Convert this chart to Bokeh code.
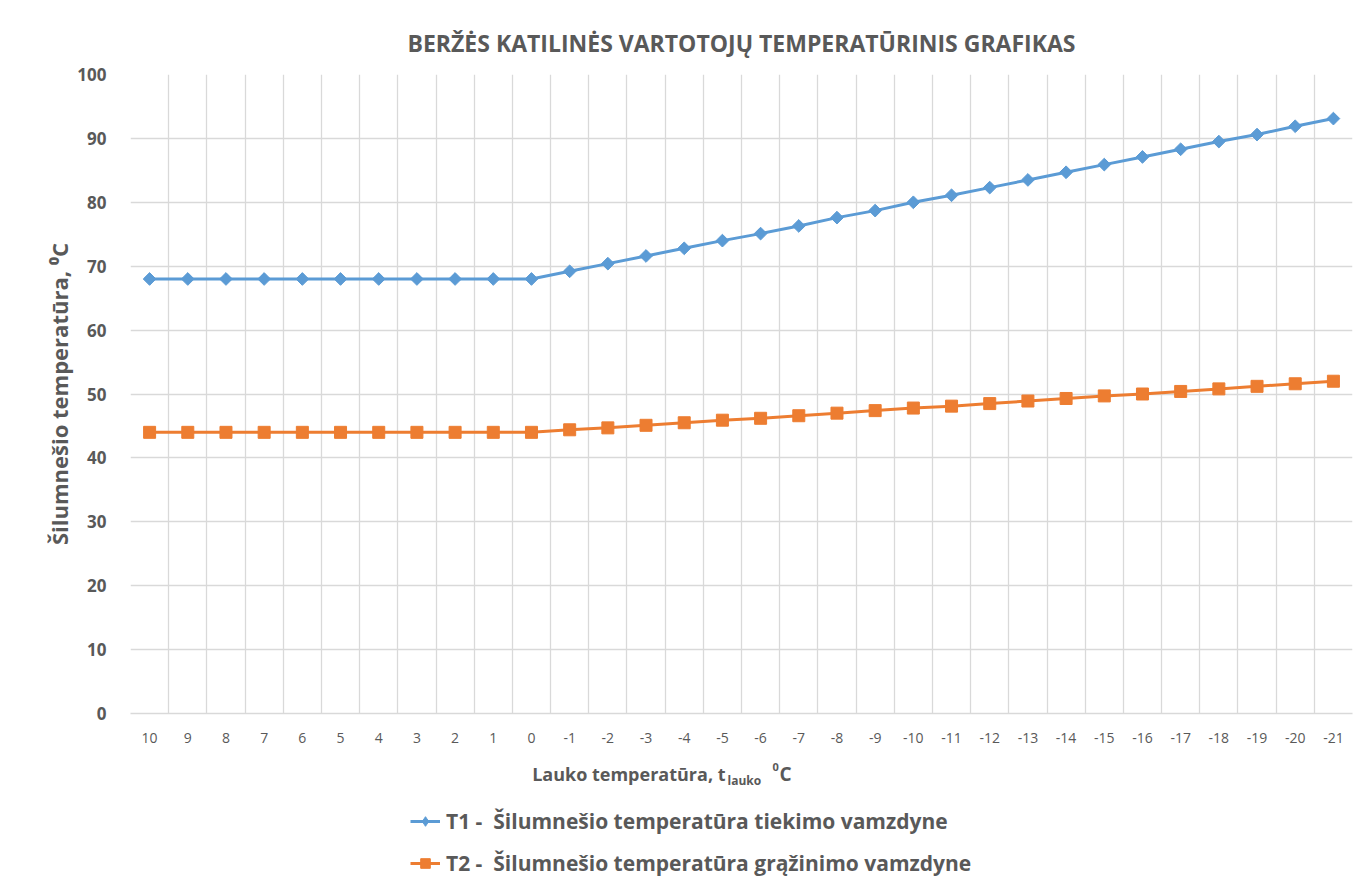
import numpy as np
from bokeh.plotting import figure
from bokeh.layouts import column
from bokeh.models import (FactorRange, Range1d, FixedTicker, Legend, LegendItem, Label)
from bokeh.embed import file_html
from bokeh.resources import INLINE

# ---- data ----
categories = ["10", "9", "8", "7", "6", "5", "4", "3", "2", "1", "0",
              "-1", "-2", "-3", "-4", "-5", "-6", "-7", "-8", "-9", "-10",
              "-11", "-12", "-13", "-14", "-15", "-16", "-17", "-18", "-19", "-20", "-21"]
t1_supply = [68, 68, 68, 68, 68, 68, 68, 68, 68, 68, 68,
             69.2, 70.4, 71.6, 72.8, 74.0, 75.1, 76.3, 77.6, 78.7, 80.0,
             81.1, 82.3, 83.5, 84.7, 85.9, 87.1, 88.3, 89.5, 90.6, 91.9, 93.1]
t2_return = [44, 44, 44, 44, 44, 44, 44, 44, 44, 44, 44,
             44.4, 44.7, 45.1, 45.5, 45.9, 46.2, 46.6, 47.0, 47.4, 47.8,
             48.1, 48.5, 48.9, 49.3, 49.7, 50.0, 50.4, 50.8, 51.2, 51.6, 52.0]
series_names = ["T1 -  Šilumnešio temperatūra tiekimo vamzdyne",
                "T2 -  Šilumnešio temperatūra grąžinimo vamzdyne"]
y_ticks = [0, 10, 20, 30, 40, 50, 60, 70, 80, 90, 100]
title_text = "BERŽĖS KATILINĖS VARTOTOJŲ TEMPERATŪRINIS GRAFIKAS"
y_label = "Šilumnešio temperatūra, ⁰C"
x_label_parts = ["Lauko temperatūra, t", "lauko", "0", "C"]

BLUE = "#5B9BD5"
ORANGE = "#ED7D31"
GRID = "#D9D9D9"
TXT = "#595959"
FONT = "Open Sans"
W = 1364


def add_series(fig, legend_glyphs=False):
    r1 = fig.line(categories, t1_supply, line_color=BLUE, line_width=3)
    if legend_glyphs:
        m1 = fig.scatter(categories, t1_supply, marker="diamond", size=13,
                         fill_color=BLUE, line_color=BLUE)
    else:
        m1 = fig.scatter(categories, t1_supply, marker="square", angle=np.pi / 4, size=9,
                         fill_color=BLUE, line_color=BLUE)
    r2 = fig.line(categories, t2_return, line_color=ORANGE, line_width=3)
    m2 = fig.scatter(categories, t2_return, marker="square", size=12,
                     fill_color=ORANGE, line_color=ORANGE)
    return r1, m1, r2, m2


p = figure(width=W, height=750, output_backend="svg", toolbar_location=None,
           x_range=FactorRange(*categories, range_padding=0),
           y_range=Range1d(0, 100),
           min_border_left=130, min_border_right=12, min_border_top=74,
           min_border_bottom=37)
p.outline_line_color = None
p.background_fill_color = "white"
p.border_fill_color = "white"

# title
p.title.text = title_text
p.title.align = "center"
p.title.text_font = FONT
p.title.text_font_size = "23px"
p.title.text_font_style = "bold"
p.title.text_color = TXT
p.title.standoff = 31

# grids
p.xgrid.ticker = FixedTicker(ticks=list(range(len(categories) + 1)))
p.xgrid.grid_line_color = GRID
p.xgrid.grid_line_width = 1.3
p.ygrid.ticker = FixedTicker(ticks=y_ticks)
p.ygrid.grid_line_color = GRID
p.ygrid.grid_line_width = 1.3

# x axis
xa = p.xaxis[0]
xa.axis_line_color = GRID
xa.axis_line_width = 1.3
xa.major_tick_line_color = None
xa.minor_tick_line_color = None
xa.major_label_text_font = FONT
xa.major_label_text_font_size = "14px"
xa.major_label_text_color = TXT
xa.major_label_standoff = 13
xa.axis_label = None

# y axis
ya = p.yaxis[0]
ya.ticker = FixedTicker(ticks=y_ticks)
ya.axis_line_color = None
ya.major_tick_line_color = None
ya.minor_tick_line_color = None
ya.major_label_text_font = FONT
ya.major_label_text_font_size = "17px"
ya.major_label_text_font_style = "bold"
ya.major_label_text_color = TXT
ya.major_label_standoff = 18
ya.axis_label = y_label
ya.axis_label_text_font = FONT
ya.axis_label_text_font_size = "22px"
ya.axis_label_text_font_style = "bold"
ya.axis_label_text_color = TXT
ya.axis_label_standoff = 0

add_series(p)

# ---- bottom strip: x axis title and legend ----
# (frame of this strip is aligned with the main frame: left edge at 130 px)
p2 = figure(width=W, height=141, output_backend="svg", toolbar_location=None,
            x_range=FactorRange(*categories, range_padding=0),
            y_range=Range1d(0, 1), min_border=0,
            x_axis_location=None, y_axis_location=None)
p2.grid.visible = False
p2.outline_line_color = None
p2.background_fill_color = "white"
p2.border_fill_color = "white"

# these lie outside the strip's y range; they only supply the legend glyphs
k1, n1, k2, n2 = add_series(p2, legend_glyphs=True)

legend = Legend(items=[LegendItem(label=series_names[0], renderers=[k1, n1]),
                       LegendItem(label=series_names[1], renderers=[k2, n2])],
                location=(280, 14), orientation="vertical",
                padding=0, margin=0, spacing=14, glyph_width=30, glyph_height=24,
                label_height=24, label_standoff=6,
                label_text_font=FONT, label_text_font_size="21px",
                label_text_font_style="bold", label_text_color=TXT,
                background_fill_alpha=0, border_line_color=None)
p2.add_layout(legend, "center")

lab_kw = dict(x_units="screen", y_units="screen", text_font=FONT,
              text_color=TXT, text_font_style="bold", text_baseline="middle")
p2.add_layout(Label(x=595, y=118, text=x_label_parts[0], text_align="right",
                    text_font_size="18px", **lab_kw))
p2.add_layout(Label(x=597, y=111, text=x_label_parts[1], text_align="left",
                    text_font_size="12px", **lab_kw))
p2.add_layout(Label(x=642, y=125, text=x_label_parts[2], text_align="left",
                    text_font_size="11px", **lab_kw))
p2.add_layout(Label(x=649, y=118, text=x_label_parts[3], text_align="left",
                    text_font_size="19px", **lab_kw))

layout = column(p, p2, spacing=0)
open("out.html", "w").write(file_html(layout, INLINE))
